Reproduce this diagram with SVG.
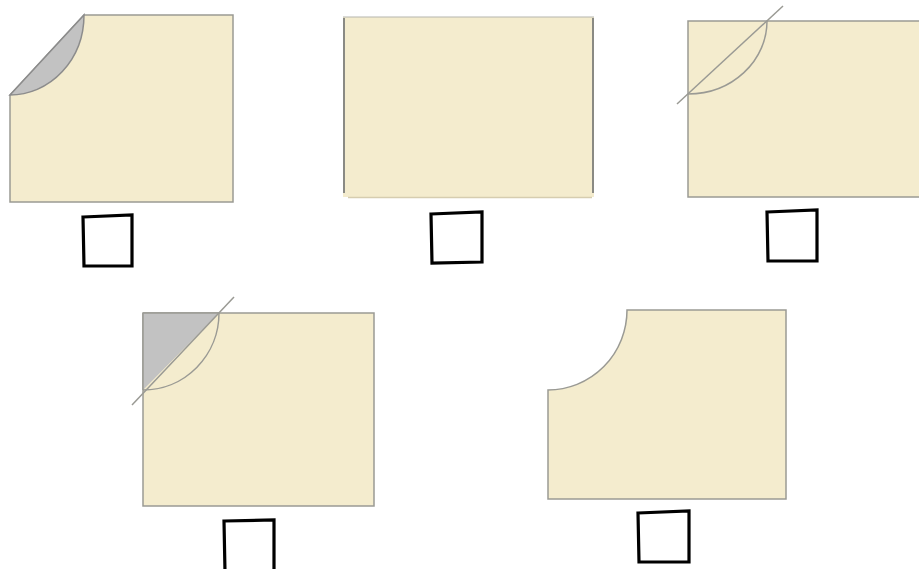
<svg xmlns="http://www.w3.org/2000/svg" width="919" height="569" viewBox="0 0 919 569">
<style>
.paper{fill:#f4ecce;stroke:#9a9a94;stroke-width:1.5}
.fold{fill:#c2c2c2;stroke:#8c8c8c;stroke-width:1.5}
.guide{fill:none;stroke:#9a9a94;stroke-width:1.5}
.box{fill:#fff;stroke:#000;stroke-width:3.2;stroke-linejoin:miter}
</style>
<rect width="919" height="569" fill="#fff"/>
<g id="panel1">
<path class="paper" d="M84,15 L233,15 L233,202 L10,202 L10,95 Z"/>
<path class="fold" d="M84,15 A74 80 0 0 1 10 95 Z"/>
<path class="box" d="M83,217 L132,215 L132,266 L84,266 Z"/>
</g>
<g id="panel2">
<rect x="343" y="17" width="251" height="180" fill="#f4ecce" stroke="none"/>
<path d="M343,17 L594,17" stroke="#b5b5ad" stroke-width="1.2"/>
<path d="M344,18 L344,193 M593,18 L593,193" stroke="#8a8a84" stroke-width="2"/>
<path d="M348,197.5 L592,197.5" stroke="#d6cdb0" stroke-width="1.5"/>
<path class="box" d="M431,214 L482,212 L482,262 L432,263 Z"/>
</g>
<g id="panel3">
<path class="paper" d="M688,21 L925,21 L925,197 L688,197 Z"/>
<path class="guide" d="M767,21 A79 73 0 0 1 688 94"/>
<path class="guide" d="M783,6 L677,104"/>
<path class="box" d="M767,212 L817,210 L817,261 L768,261 Z"/>
</g>
<g id="panel4">
<rect class="paper" x="143" y="313" width="231" height="193"/>
<path fill="#c2c2c2" stroke="none" d="M143,313 L219,313 L143,390 Z"/>
<path d="M143,313 L219,313 M143,313 L143,390" stroke="#9a9a94" stroke-width="1.5"/>
<path class="guide" d="M219,313 A76 77 0 0 1 143 390"/>
<path class="guide" d="M234,297 L132,405"/>
<path class="box" d="M224,521 L274,520 L274,572 L225,572 Z"/>
</g>
<g id="panel5">
<path class="paper" d="M627,310 L786,310 L786,499 L548,499 L548,390 A79 80 0 0 0 627 310 Z"/>
<path class="box" d="M638,513 L689,511 L689,562 L639,562 Z"/>
</g>
</svg>
